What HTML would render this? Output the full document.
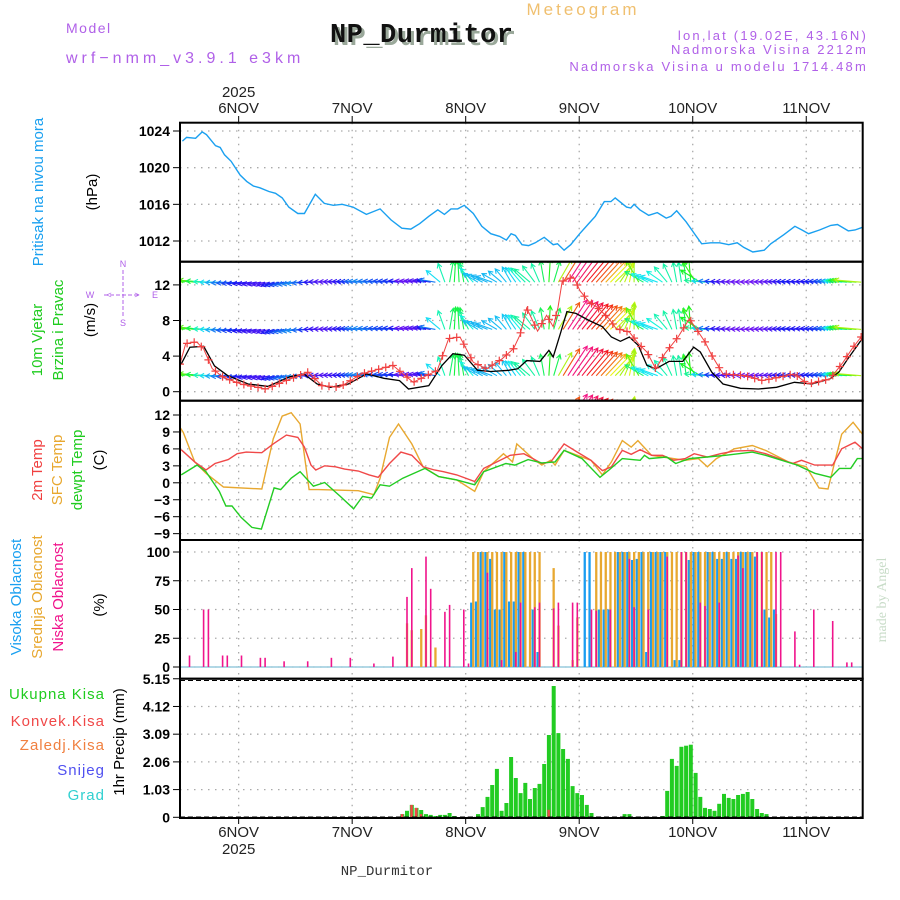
<!DOCTYPE html>
<html><head><meta charset="utf-8"><style>
html,body{margin:0;padding:0;background:#fff;width:900px;height:900px;overflow:hidden}
svg{display:block;font-family:"Liberation Sans",sans-serif}
</style></head><body>
<svg id="chart" width="900" height="900" viewBox="0 0 900 900" xmlns="http://www.w3.org/2000/svg">
<defs>
<clipPath id="cw"><rect x="180" y="262" width="683" height="139"/></clipPath>
</defs>
<!-- header -->
<text x="583" y="15" font-size="17" fill="#f0c070" text-anchor="middle" letter-spacing="3">Meteogram</text>
<text x="66" y="33" font-size="14" fill="#b060e8" letter-spacing="1.5">Model</text>
<text x="66" y="63" font-size="16" fill="#b060e8" letter-spacing="4">wrf−nmm_v3.9.1 e3km</text>
<text x="333" y="45" font-size="27" font-weight="bold" fill="#9aa89a" font-family="Liberation Mono, monospace" textLength="183">NP_Durmitor</text>
<text x="330" y="42" font-size="27" font-weight="bold" fill="#111" font-family="Liberation Mono, monospace" textLength="183">NP_Durmitor</text>
<text x="868" y="40" font-size="13" fill="#b060e8" text-anchor="end" letter-spacing="2.2">lon,lat (19.02E, 43.16N)</text>
<text x="868" y="54" font-size="13" fill="#b060e8" text-anchor="end" letter-spacing="2.2">Nadmorska Visina 2212m</text>
<text x="868" y="71" font-size="13" fill="#b060e8" text-anchor="end" letter-spacing="2.2">Nadmorska Visina u modelu 1714.48m</text>
<text x="387" y="875" font-size="14" fill="#333" text-anchor="middle" font-family="Liberation Mono, monospace">NP_Durmitor</text>
<text transform="translate(886,600) rotate(-90)" font-size="14" fill="#c8dcc8" text-anchor="middle" font-family="Liberation Serif, serif">made by Angel</text>
<!-- left titles -->
<g font-size="15" text-anchor="middle">
<text transform="translate(43,192) rotate(-90)" fill="#1aa0f0">Pritisak na nivou mora</text>
<text transform="translate(97,192) rotate(-90)" fill="#000">(hPa)</text>
<text transform="translate(42,340) rotate(-90)" fill="#20cc20">10m Vjetar</text>
<text transform="translate(63,330) rotate(-90)" fill="#20cc20">Brzina i Pravac</text>
<text transform="translate(95,320) rotate(-90)" fill="#000">(m/s)</text>
<text transform="translate(42,470) rotate(-90)" fill="#f04040">2m Temp</text>
<text transform="translate(62,470) rotate(-90)" fill="#e8a830">SFC Temp</text>
<text transform="translate(82,470) rotate(-90)" fill="#20cc20">dewpt Temp</text>
<text transform="translate(104,460) rotate(-90)" fill="#000">(C)</text>
<text transform="translate(21,597) rotate(-90)" fill="#1aa0f0">Visoka Oblacnost</text>
<text transform="translate(42,597) rotate(-90)" fill="#e8a830">Srednja Oblacnost</text>
<text transform="translate(63,597) rotate(-90)" fill="#f0148c">Niska Oblacnost</text>
<text transform="translate(104,605) rotate(-90)" fill="#000">(%)</text>
<text transform="translate(124,742) rotate(-90)" fill="#000">1hr Precip (mm)</text>
</g>
<g font-size="15" text-anchor="end" letter-spacing="1">
<text x="105" y="699" fill="#20cc20">Ukupna  Kisa</text>
<text x="105" y="726" fill="#f04848">Konvek.Kisa</text>
<text x="105" y="750" fill="#f08040">Zaledj.Kisa</text>
<text x="105" y="775" fill="#5050f0">Snijeg</text>
<text x="105" y="800" fill="#30d0d0">Grad</text>
</g>
<g stroke="#b060e8" fill="none" stroke-width="1" stroke-dasharray="4,2">
<line x1="104" y1="295" x2="140" y2="295"/><line x1="123" y1="270" x2="123" y2="318"/>
</g>
<g font-size="9" fill="#b060e8" text-anchor="middle">
<text x="90" y="298">W</text><text x="155" y="298">E</text><text x="123" y="267">N</text><text x="123" y="326">S</text>
<text x="109" y="298">&lt;</text><text x="137" y="298">&gt;</text>
</g>
<g id="plot"></g>
</svg>
<script>
// ---------- data ----------
const pressHours=[0.5,1.4,3.3,4.7,5.6,7.5,8.5,9.4,10.8,12.7,14.1,15.5,16.9,18.8,20.2,21.6,23,24.9,26.3,28.6,30.5,32.4,34.3,36.6,39.4,42.3,44.6,46.9,48.8,50.7,52.6,54.5,55.9,57.3,58.7,60.1,62,63.8,65.7,67.6,69,70,70.9,72.3,73.7,75.1,77,78.9,79.8,81.2,82.6,84.5,86.4,87.8,89.7,91.1,92,94.4,95.3,96,97.2,99.1,100.9,102.8,103.8,105,107,108.9,110.3,112.2,114.1,116,117.8,119.2,121.1,123.5,124.9,127.7,130,131.5,132.9,135.2,137.6,139,141.3,142.7,144.3];
const pressVals=[1022.9,1023.3,1023.2,1023.9,1023.6,1022.4,1022.2,1021.4,1020.7,1019.2,1018.5,1018,1017.8,1017.4,1017.2,1016.7,1015.7,1015,1015,1017.1,1016.1,1015.9,1016,1015.7,1014.9,1015.5,1014.3,1013.4,1013.3,1013.9,1014.7,1015.4,1014.9,1015.5,1015.5,1015.9,1015,1013.6,1012.8,1012.5,1012.1,1012.8,1012.6,1011.6,1011.5,1011.8,1012.4,1011.6,1011.7,1011,1011.6,1012.8,1013.9,1014.7,1016.3,1016.3,1016.7,1015.7,1015.6,1016,1015.4,1014.8,1015.1,1014.5,1014.7,1015.3,1014.1,1012.7,1011.7,1011.8,1011.8,1011.6,1011.8,1011.3,1010.8,1011,1011.7,1012.7,1013.6,1013.2,1012.8,1013.2,1013.7,1013.8,1013.1,1013.2,1013.5];
const speedHours=[0.25,2.1,5,7.3,10.1,14.4,18.6,23.3,26.2,29,31.8,35.6,39.4,43.1,46.4,48.3,52.6,55.4,57.7,60.1,62.9,65.7,69.5,71.4,73.3,76.1,78,78.9,80.4,81.8,83.7,86.5,89.3,91.2,93.1,95,96.9,98.7,100.6,103.4,106.3,108.6,110,112.4,114.8,118.5,122.3,126.1,129.9,133.6,137.4,139.3,141.2,144.3];
const speedVals=[3.1,5,5.1,2.9,1.8,0.87,0.6,1.7,2,0.87,0.5,0.87,2,1.5,1.25,0.3,0.68,2.95,4.27,4.1,2.4,2.27,2.4,2.57,3.5,3.4,4.65,3.9,6.5,9,8.8,8,7.3,6.15,5.66,6.15,5.2,2.95,2.57,3.4,3.4,5,4.46,2.2,0.87,0.38,0.3,0.5,1.06,0.87,1.44,2.2,3.7,6];
const gustHours=[0,1.2,3.5,5,6.8,9.2,12.9,18.2,22.4,27.1,30,33.7,38.4,45,49.3,54.4,56.8,59.2,62,64.8,68.1,70.5,71.9,73.3,75.6,77.5,78.9,79.9,80.8,83.2,84.6,86.5,88.4,90.7,92.2,95,96.9,98.7,100.6,102.5,105.3,107.7,111,112.4,114.8,119.5,123.2,129.9,132.7,137.4,140.2,142.1,144];
const gustVals=[3.1,5.4,5.6,4.8,2.6,1.6,0.87,0.3,1.25,2.2,0.68,0.5,2,2.95,1.06,2.4,5.97,6.15,3.3,2.57,3.7,4.83,6.4,9.4,6.8,8.6,7.3,9.4,12.4,12.9,11.3,10.1,9.4,8.2,7.1,6.7,5.4,4.46,2.57,4.27,6.15,8.2,5.6,4.1,2,1.8,1.25,2,0.87,1.44,3.3,4.83,6.15];
const dirHours=[0,3,8,20,26,30,45,54,57,60,63,66,70,74,77,80,86,92,96,98,101,105,108,111,120,144];
const dirAngles=[165,172,180,195,185,178,175,170,80,100,150,160,120,140,100,60,50,45,90,150,160,100,95,175,178,175];
const t2Hours=[0.26,3.1,5.5,7.4,10.2,12.1,14,17.3,19.7,22.5,24.9,26.3,27.7,28.7,30.6,32.9,34.8,37.7,40,41.9,44.3,46.7,49,51.4,53.8,55.7,58.5,62.3,64.2,67,69.8,72.7,74.6,76.5,78.4,81.2,84,86.9,89.3,91.2,93.5,95.4,97.3,99.7,102,104.4,106.8,108.7,111.5,114.3,117.2,121,123.8,126.7,129.5,131.4,134.2,138,139.9,142.7,144.3];
const t2Vals=[5.85,3.7,2.26,3.41,4.11,5.15,5.44,5.33,6.89,8.45,8.04,6.31,3.13,2.26,3.01,2.84,2.43,2.08,1.39,0.98,3.41,5.44,4.86,2.84,2.26,1.97,1.39,0.23,2.55,3.7,4.86,5.15,4.28,3.41,3.7,6.89,5.44,3.99,2.14,2.84,5.73,5.04,5.85,4.86,4.86,3.99,4.28,5.15,4.57,5.15,5.61,5.73,5.15,4.28,3.41,3.99,3.13,3.13,6.02,7.18,6.02];
const sfcHours=[0,0.7,3.1,5.5,9.2,17.3,19.7,21.6,23.5,25.4,27.3,29.2,37.7,41,42.3,44.3,46.2,49,51.4,54.7,58.5,62.3,64.2,68.4,70.3,71.2,72.7,74.6,76.5,78.4,79.3,81.2,84,86.9,89.3,91.2,93.5,95.4,96.8,99.7,102,106.8,109.6,111.5,113.4,117.2,121,123.8,128.6,132.4,135.1,137,139.9,142.3,144.3];
const sfcVals=[9.8,8.9,3.7,1.68,-0.75,-1.1,7.76,11.8,12.4,10.4,-1.2,-1.2,-1.4,-2.1,0.81,8.04,10.4,6.89,2.84,1.1,0.52,-1.5,1.97,5.15,3.7,6.89,5.73,4.28,3.13,3.99,3.13,5.73,4.86,3.99,1.39,3.7,7.47,6.31,7.47,4.86,4.57,3.99,4.28,2.84,4.28,6.02,6.6,5.73,3.7,2.84,-0.92,-1.1,8.6,10.7,8.6];
const dewHours=[0.26,3.6,5.5,8.3,9.7,11,12.9,15.2,17.2,19.9,21.3,23.5,25.4,28.2,30.6,33.9,36.7,38.6,40.5,42.3,44.3,47.1,51.8,54.7,58.5,62.3,64.2,68.9,70.8,73.6,76.5,79.3,81.2,85,88.8,90.7,93.5,97.3,98.2,99.2,102.9,104.8,107.7,111.5,115.3,121,123.8,130.5,134.2,137.6,139.4,141.8,143.2,144.3];
const dewVals=[1.39,3.13,1.97,-1.5,-4.1,-4.1,-6.1,-7.9,-8.2,-0.9,-1.2,0.81,1.97,-0.6,0.06,-2.4,-4.6,-2.4,-2.7,-0.35,-0.6,0.81,2.55,1.1,0.52,-0.35,1.97,3.41,3.13,4.11,3.53,3.7,5.73,4.28,0.98,2.26,4.28,3.99,4.86,4.28,4.57,3.41,4.28,4.57,4.86,5.44,4.86,3.13,1.68,0.98,2.55,2.55,4.28,4.28];
const highHours=[61,62,63,64,65,66,67,68,69,70,71,72,74,75,85,86,88,89,90,92,93,94,95,96,97,98,99,100,101,102,104,105,107,108,109,111,112,113,114,115,116,117,118,119,120,121,123,124,125];
const highVals=[56,57,100,100,94,50,50,100,57,57,100,100,50,13,100,100,50,50,50,100,100,100,93,94,100,13,100,100,100,100,6,6,93,100,100,100,100,94,94,100,94,94,100,100,100,96,50,43,50];
const midHours=[47,48,50,51,53,61,62,63,64,65,66,67,68,69,70,71,72,73,74,75,78,79,82,83,87,88,89,90,91,92,93,94,95,96,97,98,99,100,101,102,103,104,105,106,107,108,109,110,111,112,113,114,115,116,117,118,119,120,121,122,123,124,125];
const midVals=[38,32,33,45,17,100,100,100,100,100,100,100,100,100,100,100,100,100,100,100,86,36,6,43,100,100,100,100,100,100,100,100,100,100,100,100,100,100,100,100,100,100,100,100,100,100,100,100,100,100,100,100,100,100,100,100,100,100,100,100,100,100,46];
const lowHours=[2,5,6,9,10,13,17,18,22,27,32,36,41,45,48,49,52,53,56,57,60,61,65,68,71,72,75,76,79,80,83,84,87,88,91,95,96,99,103,106,107,110,111,114,118,119,122,123,126,127,130,131,134,138,141,142];
const lowVals=[10,50,50,10,10,10,8,8,5,5,8,8,3,9,61,86,96,68,48,54,50,3,82,6,13,56,52,56,51,56,56,56,50,49,50,94,52,50,96,100,100,56,53,56,97,86,100,100,100,100,31,2,50,40,4,4];
const rainHours=[47,48,49,50,51,52,53,54,55,56,57,58,63,64,65,66,67,68,69,70,71,72,73,74,75,76,77,78,79,80,81,82,83,84,85,86,87,94,95,102,103,104,105,106,107,108,109,110,111,112,113,114,115,116,117,118,119,120,121,122,123,124];
const rainVals=[0.12,0.24,0.46,0.35,0.27,0.12,0.09,0.05,0.09,0.09,0.16,0.05,0.12,0.38,0.76,1.2,1.8,0.24,0.53,2.24,1.46,0.9,1.28,0.68,1.09,1.24,1.98,3.06,4.88,3.13,2.54,2.17,1.16,0.9,0.83,0.46,0.16,0.12,0.12,0.05,0.98,2.17,1.91,2.62,2.66,2.7,1.65,0.76,0.35,0.31,0.24,0.5,0.87,0.72,0.68,0.83,0.87,0.94,0.68,0.31,0.16,0.12];
const convHours=[47,49,50,51,78];
const convVals=[0.12,0.46,0.35,0.12,0.28];
const dayLabels=["6NOV","7NOV","8NOV","9NOV","10NOV","11NOV"];
const dayHours=[12.4,36.4,60.4,84.4,108.4,132.4];
const pressTicks=[1012,1016,1020,1024];
const windTicks=[0,4,8,12];
const tempTicks=[-9,-6,-3,0,3,6,9,12];
const cloudTicks=[0,25,50,75,100];
const rainTicks=[0,1.03,2.06,3.09,4.12,5.15];

// ---------- axes ----------
const X0=180,X1=862.7,PXH=4.73;
const xh=h=>X0+h*PXH;
const yP=p=>131+(1024-p)*9.167;
const yW=v=>391.7-v*8.9;
const yT=t=>415+(12-t)*5.65;
const yC=c=>667-c*1.15;
const yR=r=>817.3-r*26.9;
const NS="http://www.w3.org/2000/svg";
const plot=document.getElementById('plot');
function mk(tag,attrs,parent){const e=document.createElementNS(NS,tag);for(const k in attrs)e.setAttribute(k,attrs[k]);(parent||plot).appendChild(e);return e;}
function interp(hs,vs,h){if(h<=hs[0])return vs[0];for(let i=1;i<hs.length;i++){if(h<=hs[i]){const f=(h-hs[i-1])/(hs[i]-hs[i-1]);return vs[i-1]+f*(vs[i]-vs[i-1]);}}return vs[vs.length-1];}

const panels=[[122.7,261.7],[261.7,400.7],[400.7,540],[540,678.7],[678.7,818]];
const grid=mk('g',{stroke:'#aaa','stroke-width':'1.3','stroke-dasharray':'1.5,5.5'});


dayHours.forEach(h=>{panels.forEach(p=>{mk('line',{x1:xh(h),x2:xh(h),y1:p[0],y2:p[1]},grid);});});
function hgrid(ticks,fy,name,fmt){
  const g=mk('g',{});
  
  
  ticks.forEach(t=>{const y=fy(t);
    mk('line',{x1:X0,x2:X1,y1:y,y2:y,stroke:'#aaa','stroke-width':'1.3','stroke-dasharray':'1.5,5.5'},g);
    mk('line',{x1:X0-7,x2:X0,y1:y,y2:y,stroke:'#000','stroke-width':'1'},g);
    const tx=mk('text',{x:X0-10,y:y+5,'font-size':'14','font-weight':'bold','text-anchor':'end',fill:'#000'},g);
    tx.textContent=fmt?fmt(t):String(t).replace('-','−');
  });
}
hgrid(pressTicks,yP,'pressure-axis');
hgrid(windTicks,yW,'wind-axis');
hgrid(tempTicks,yT,'temp-axis');
hgrid(cloudTicks,yC,'cloud-axis');
hgrid(rainTicks,yR,'precip-axis',t=>t===0?'0':t.toFixed(2));

let d=pressHours.map((h,i)=>(i?'L':'M')+xh(h).toFixed(1)+','+yP(pressVals[i]).toFixed(1)).join('');
const pl=mk('path',{d:d,fill:'none',stroke:'#1aa0f0','stroke-width':'1.4'});



const wg=mk('g',{'clip-path':'url(#cw)'});


const rows=[12.3,7,1.8,-3.6];
for(let h=0;h<=144;h++){
  const sp=interp(speedHours,speedVals,h);
  const ang=interp(dirHours,dirAngles,h)*Math.PI/180;
  const L=11+sp*2.7;
  let hue=275-sp*34; if(hue<0)hue+=360;
  const col='hsl('+hue.toFixed(0)+',90%,52%)';
  rows.forEach(r=>{
    const x0=xh(h),y0=yW(r);
    const x1=x0+Math.cos(ang)*L,y1=y0-Math.sin(ang)*L;
    const a=mk('path',{d:'M'+x0.toFixed(1)+','+y0.toFixed(1)+'L'+x1.toFixed(1)+','+y1.toFixed(1)+
      'M'+(x1-Math.cos(ang-0.5)*5).toFixed(1)+','+(y1+Math.sin(ang-0.5)*5).toFixed(1)+'L'+x1.toFixed(1)+','+y1.toFixed(1)+
      'L'+(x1-Math.cos(ang+0.5)*5).toFixed(1)+','+(y1+Math.sin(ang+0.5)*5).toFixed(1),
      stroke:col,'stroke-width':'1.1',fill:'none'},wg);
    
    
  });
}
d=speedHours.map((h,i)=>(i?'L':'M')+xh(h).toFixed(1)+','+yW(speedVals[i]).toFixed(1)).join('');
const sl=mk('path',{d:d,fill:'none',stroke:'#000','stroke-width':'1.3','clip-path':'url(#cw)'});


d=gustHours.map((h,i)=>(i?'L':'M')+xh(h).toFixed(1)+','+yW(gustVals[i]).toFixed(1)).join('');
const gl=mk('path',{d:d,fill:'none',stroke:'#f04040','stroke-width':'1','clip-path':'url(#cw)'});


for(let h=0;h<=144;h+=1.5){
  const x=xh(h),y=yW(interp(gustHours,gustVals,h));
  const c=mk('path',{d:'M'+(x-4)+','+y+'H'+(x+4)+'M'+x+','+(y-4)+'V'+(y+4),stroke:'#f04040','stroke-width':'1.2','clip-path':'url(#cw)'});
  
  
}

[[sfcHours,sfcVals,'#e8a830','sfc-temp-line'],[t2Hours,t2Vals,'#f04848','temp-2m-line'],[dewHours,dewVals,'#22cc22','dewpoint-line']].forEach(s=>{
  const dd=s[0].map((h,i)=>(i?'L':'M')+xh(h).toFixed(1)+','+yT(s[1][i]).toFixed(1)).join('');
  const p=mk('path',{d:dd,fill:'none',stroke:s[2],'stroke-width':'1.4'});
  
  
});

mk('line',{x1:X0,x2:X1,y1:yC(0),y2:yC(0),stroke:'#9cd','stroke-width':'1.5'});
function cbars(hs,vs,off,w,col,name){
  hs.forEach((h,i)=>{const y=yC(vs[i]);
    const r=mk('rect',{x:(xh(h)+off).toFixed(1),y:y.toFixed(1),width:w,height:(yC(0)-y).toFixed(1),fill:col});
    
    
  });
}
cbars(highHours,highVals,1.6,2.3,'#1a9cf0','high-cloud-bar');
cbars(midHours,midVals,3.6,2.3,'#e8a830','mid-cloud-bar');
cbars(lowHours,lowVals,-0.8,1.6,'#f0148c','low-cloud-bar');

rainHours.forEach((h,i)=>{const y=yR(rainVals[i]);
  const r=mk('rect',{x:(xh(h)-2).toFixed(1),y:y.toFixed(1),width:4,height:(yR(0)-y).toFixed(1),fill:'#22cc22'});
  
  
});
convHours.forEach((h,i)=>{const y=yR(convVals[i]);
  const r=mk('rect',{x:(xh(h)-1.5).toFixed(1),y:y.toFixed(1),width:2.5,height:(yR(0)-y).toFixed(1),fill:'#f04848'});
  
  
});
mk('line',{x1:X0,x2:X1,y1:yR(0),y2:yR(0),stroke:'#000','stroke-width':'1.5','stroke-dasharray':'5,3'});
mk('line',{x1:X0,x2:X1,y1:680.5,y2:680.5,stroke:'#000','stroke-width':'1','stroke-dasharray':'5,3'});

panels.forEach((p,i)=>{
  const r=mk('rect',{x:X0,y:p[0],width:X1-X0,height:p[1]-p[0],fill:'none',stroke:'#000','stroke-width':'2'});
  
  
});
dayHours.forEach((h,i)=>{
  const x=xh(h);
  mk('line',{x1:x,x2:x,y1:116,y2:122.7,stroke:'#000'});
  mk('line',{x1:x,x2:x,y1:818,y2:824,stroke:'#000'});
  const t=mk('text',{x:x,y:113,'font-size':'15','text-anchor':'middle',fill:'#222'});
  t.textContent=dayLabels[i];
  
  
  const b=mk('text',{x:x,y:837,'font-size':'15','text-anchor':'middle',fill:'#222'});
  b.textContent=dayLabels[i];
  
  
});
const y1=mk('text',{x:xh(dayHours[0]),y:97,'font-size':'15','text-anchor':'middle',fill:'#222'});
y1.textContent='2025';


const y2=mk('text',{x:xh(dayHours[0]),y:854,'font-size':'15','text-anchor':'middle',fill:'#222'});
y2.textContent='2025';


</script>
</body></html>
